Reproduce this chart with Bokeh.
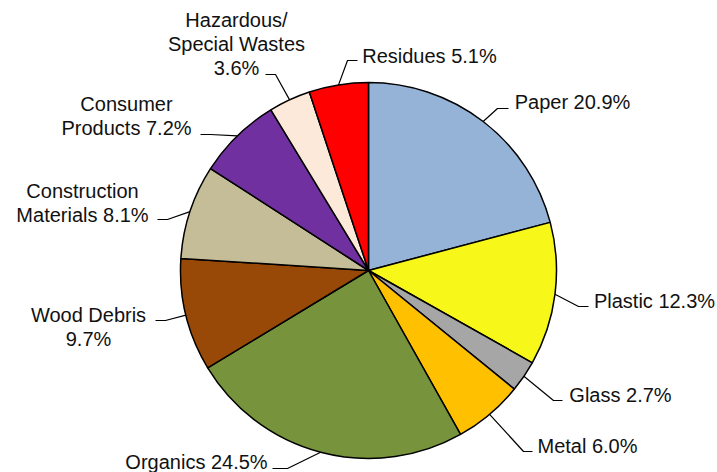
import numpy as np
from bokeh.plotting import figure
from bokeh.models import Range1d
from bokeh.embed import file_html
from bokeh.resources import INLINE
from bokeh.core.properties import value

# ---- data ----
categories = ["Paper", "Plastic", "Glass", "Metal", "Organics", "Wood Debris",
              "Construction Materials", "Consumer Products",
              "Hazardous/ Special Wastes", "Residues"]
percents = [20.9, 12.3, 2.7, 6.0, 24.5, 9.7, 8.1, 7.2, 3.6, 5.1]
colors = ["#95B3D7", "#F7F719", "#A6A6A6", "#FFC000", "#77933C", "#984807",
          "#C4BD97", "#7030A0", "#FDE9D9", "#FF0000"]

# ---- layout (image pixel coords, y down) ----
W, H = 717, 472
CX, CY, R = 368, 270, 188
# (label center x, first baseline y, words per line, leader elbow, leader end)
label_layout = [
    (572, 108, None, (497, 108), (508, 108)),
    (654, 307, None, (578, 306), (588, 306)),
    (620, 401, None, (553, 400), (562, 400)),
    (587, 452, None, (523, 451), (532, 451)),
    (196, 468, None, (287, 468), (272, 468)),
    (88, 321, [2, 1], (165, 320), (155, 320)),
    (82, 197, [1, 2], (167, 219), (157, 219)),
    (126, 110, [1, 2], (210, 134), (200, 134)),
    (236, 26, [1, 2, 1], (275, 74), (265, 74)),
    (429, 62, None, (347, 60), (357, 60)),
]
LINE_H = 24
CAP_MID = 7  # distance from baseline to the middle of capitals

def fy(y):
    return H - y

p = figure(width=W, height=H, x_range=Range1d(0, W), y_range=Range1d(0, H),
           output_backend="svg", toolbar_location=None, min_border=0,
           x_axis_type=None, y_axis_type=None)
p.grid.visible = False
p.outline_line_color = None
p.background_fill_color = "white"
p.border_fill_color = "white"

vals = np.array(percents, dtype=float)
frac = vals / vals.sum()
cum_end = np.cumsum(frac)
cum_start = cum_end - frac
start_ang = np.pi / 2 - 2 * np.pi * cum_start
end_ang = np.pi / 2 - 2 * np.pi * cum_end

p.wedge(x=CX, y=fy(CY), radius=R, start_angle=start_ang, end_angle=end_ang,
        direction="clock", fill_color=colors, line_color="black", line_width=1.5)

# leader lines
mid = 2 * np.pi * (cum_start + cum_end) / 2
lx, ly = [], []
for i, (_, _, _, elbow, end) in enumerate(label_layout):
    ex = CX + R * np.sin(mid[i])
    ey = CY - R * np.cos(mid[i])
    lx.append([ex, elbow[0], end[0]])
    ly.append([fy(ey), fy(elbow[1]), fy(end[1])])
p.multi_line(xs=lx, ys=ly, line_color="black", line_width=1.2)

# labels
tx, ty, tt = [], [], []
for i, (cx, by, split, _, _) in enumerate(label_layout):
    words = f"{categories[i]} {percents[i]:.1f}%".split(" ")
    if split is None:
        split = [len(words)]
    k = 0
    for j, n in enumerate(split):
        tt.append(" ".join(words[k:k + n]))
        k += n
        tx.append(cx)
        ty.append(fy(by + j * LINE_H - CAP_MID))
p.text(x=tx, y=ty, text=tt, text_font=value("Liberation Sans"),
       text_font_size="20px", text_align="center", text_baseline="middle",
       text_color="#111111")

open("out.html", "w").write(file_html(p, INLINE))
